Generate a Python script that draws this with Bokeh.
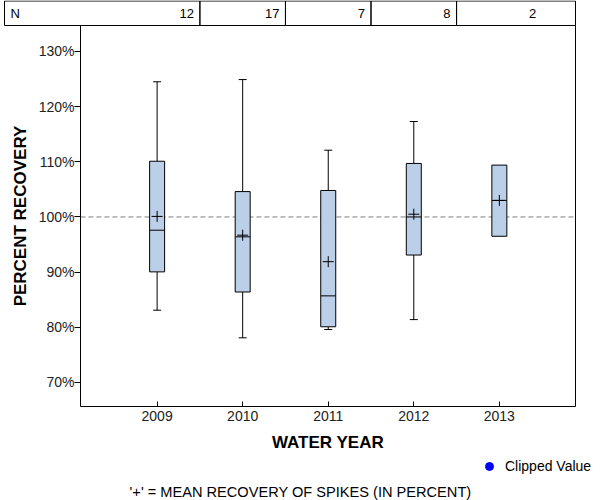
from bokeh.plotting import figure
from bokeh.models import (Range1d, FixedTicker, PrintfTickFormatter, Legend, LegendItem,
                          ColumnDataSource, LinearAxis)
from bokeh.core.properties import value
from bokeh.embed import file_html
from bokeh.resources import INLINE

# ---------------- data ----------------
years = [2009, 2010, 2011, 2012, 2013]
n_counts = [12, 17, 7, 8, 2]
whisker_hi = [124.5, 124.9, 112.1, 117.3, None]
q3 = [110.1, 104.6, 104.8, 109.7, 109.4]
median = [97.6, 96.4, 85.7, 100.0, 103.0]
q1 = [90.05, 86.4, 80.1, 93.1, 96.5]
whisker_lo = [83.1, 78.1, 79.6, 81.4, None]
means = [100.1, 96.7, 91.9, 100.5, 103.0]
y_ticks = [70, 80, 90, 100, 110, 120, 130]
# no clipped values in this chart (NaN placeholder so the legend key is drawn)
clipped_x = [float("nan")]
clipped_y = [float("nan")]
reference_level = 100

FONT = "Liberation Sans"
W, H = 600, 500
# plot area (axis extents) and its pixel box inside the canvas
X0, X1 = 2008.1045, 2013.89
Y0, Y1 = 65.65, 134.7
PL, PR, PT, PB = 80, 575, 25, 406
sx = (PR - PL) / (X1 - X0)
sy = (PB - PT) / (Y1 - Y0)

p = figure(width=W, height=H,
           x_range=Range1d(X0 - PL / sx, X1 + (W - PR) / sx),
           y_range=Range1d(Y0 - (H - PB) / sy, Y1 + PT / sy),
           output_backend="svg", toolbar_location=None, min_border=0)
p.grid.visible = False
p.outline_line_color = None

def px_x(px):
    return X0 + (px - PL) / sx

def px_y(py):
    return Y0 + (PB - py) / sy

# ---------------- N table ----------------
yt = px_y(0.5)
edges = [px_x(4)] + [yr + 0.5 for yr in years[:-1]] + [X1]
p.quad(left=edges[:-1], right=edges[1:], bottom=[Y1] * len(years), top=[yt] * len(years),
       fill_color=None, line_color="black", line_width=1)
ymid = (Y1 + yt) / 2
p.text(x=[edges[0]], y=[ymid], text=["N"], x_offset=6, text_align="left", text_baseline="middle",
       text_font=value(FONT), text_font_size="13px", text_color="black")
p.text(x=[yr + 0.5 for yr in years], y=[ymid] * len(years), text=[str(n) for n in n_counts],
       x_offset=-6, text_align="right", text_baseline="middle",
       text_font=value(FONT), text_font_size="13px", text_color="black")

# ---------------- reference line and boxes ----------------
p.segment(x0=[X0], y0=[reference_level], x1=[X1], y1=[reference_level],
          line_color="#808080", line_dash="5 3", line_width=1)

wy = [yr for yr, h in zip(years, whisker_hi) if h is not None]
wh = [h for h in whisker_hi if h is not None]
wl = [l for l in whisker_lo if l is not None]
wq3 = [q for q, h in zip(q3, whisker_hi) if h is not None]
wq1 = [q for q, h in zip(q1, whisker_hi) if h is not None]
cap = 8 / sx
p.segment(x0=wy, y0=wq3, x1=wy, y1=wh, line_color="black", line_width=1)
p.segment(x0=wy, y0=wq1, x1=wy, y1=wl, line_color="black", line_width=1)
p.segment(x0=[x - cap / 2 for x in wy], y0=wh, x1=[x + cap / 2 for x in wy], y1=wh, line_color="black")
p.segment(x0=[x - cap / 2 for x in wy], y0=wl, x1=[x + cap / 2 for x in wy], y1=wl, line_color="black")

bw = 15 / sx
p.vbar(x=years, bottom=q1, top=q3, width=bw, fill_color="#BBCFE8", line_color="black", line_width=1)
p.segment(x0=[x - bw / 2 for x in years], y0=median, x1=[x + bw / 2 for x in years], y1=median,
          line_color="black", line_width=1)
p.scatter(x=years, y=means, marker="cross", size=11, line_color="black", line_width=1)

# ---------------- axes ----------------
p.xaxis.fixed_location = Y0
p.yaxis.fixed_location = X0
p.xaxis.bounds = (X0, X1)
p.yaxis.bounds = (Y0, Y1)
p.xaxis.ticker = FixedTicker(ticks=years)
p.yaxis.ticker = FixedTicker(ticks=y_ticks)
p.yaxis.formatter = PrintfTickFormatter(format="%d%%")
for ax in (p.xaxis, p.yaxis):
    ax.axis_line_color = "black"
    ax.major_tick_line_color = "black"
    ax.minor_tick_line_color = None
    ax.major_label_text_font = FONT
    ax.major_label_text_font_size = "14px"
    ax.major_label_text_color = "#222222"
    ax.axis_label_text_font = FONT
    ax.axis_label_text_font_size = "17px"
    ax.axis_label_text_font_style = "bold"
    ax.axis_label_text_color = "black"
p.xaxis.major_tick_in = 5
p.xaxis.major_tick_out = 0
p.xaxis.major_label_standoff = 4
p.xaxis.axis_label = "WATER YEAR"
p.xaxis.axis_label_standoff = 9
p.yaxis.major_tick_in = 0
p.yaxis.major_tick_out = 6
p.yaxis.major_label_standoff = 0
p.yaxis.axis_label = "PERCENT RECOVERY"
p.yaxis.axis_label_standoff = 6

right = LinearAxis(fixed_location=X1, bounds=(Y0, Y1), ticker=FixedTicker(ticks=[]),
                   axis_line_color="black", major_tick_line_color=None,
                   minor_tick_line_color=None, major_label_text_alpha=0)
p.add_layout(right, "right")

# ---------------- legend + note ----------------
src = ColumnDataSource(data=dict(x=clipped_x, y=clipped_y))
r = p.scatter(x="x", y="y", source=src, marker="circle", size=9, fill_color="blue", line_color="blue")
legend = Legend(items=[LegendItem(label="Clipped Value", renderers=[r])], location=(479, H - 476),
                border_line_alpha=0, background_fill_alpha=0, margin=0, padding=0, spacing=0,
                label_standoff=6, glyph_width=20, glyph_height=20,
                label_text_font=FONT, label_text_font_size="14px", label_text_color="black")
p.add_layout(legend)
p.text(x=[px_x(300)], y=[px_y(491)], text=["'+' = MEAN RECOVERY OF SPIKES (IN PERCENT)"],
       text_align="center", text_baseline="middle",
       text_font=value(FONT), text_font_size="14.6px", text_color="black")

open("out.html", "w").write(file_html(p, INLINE))
